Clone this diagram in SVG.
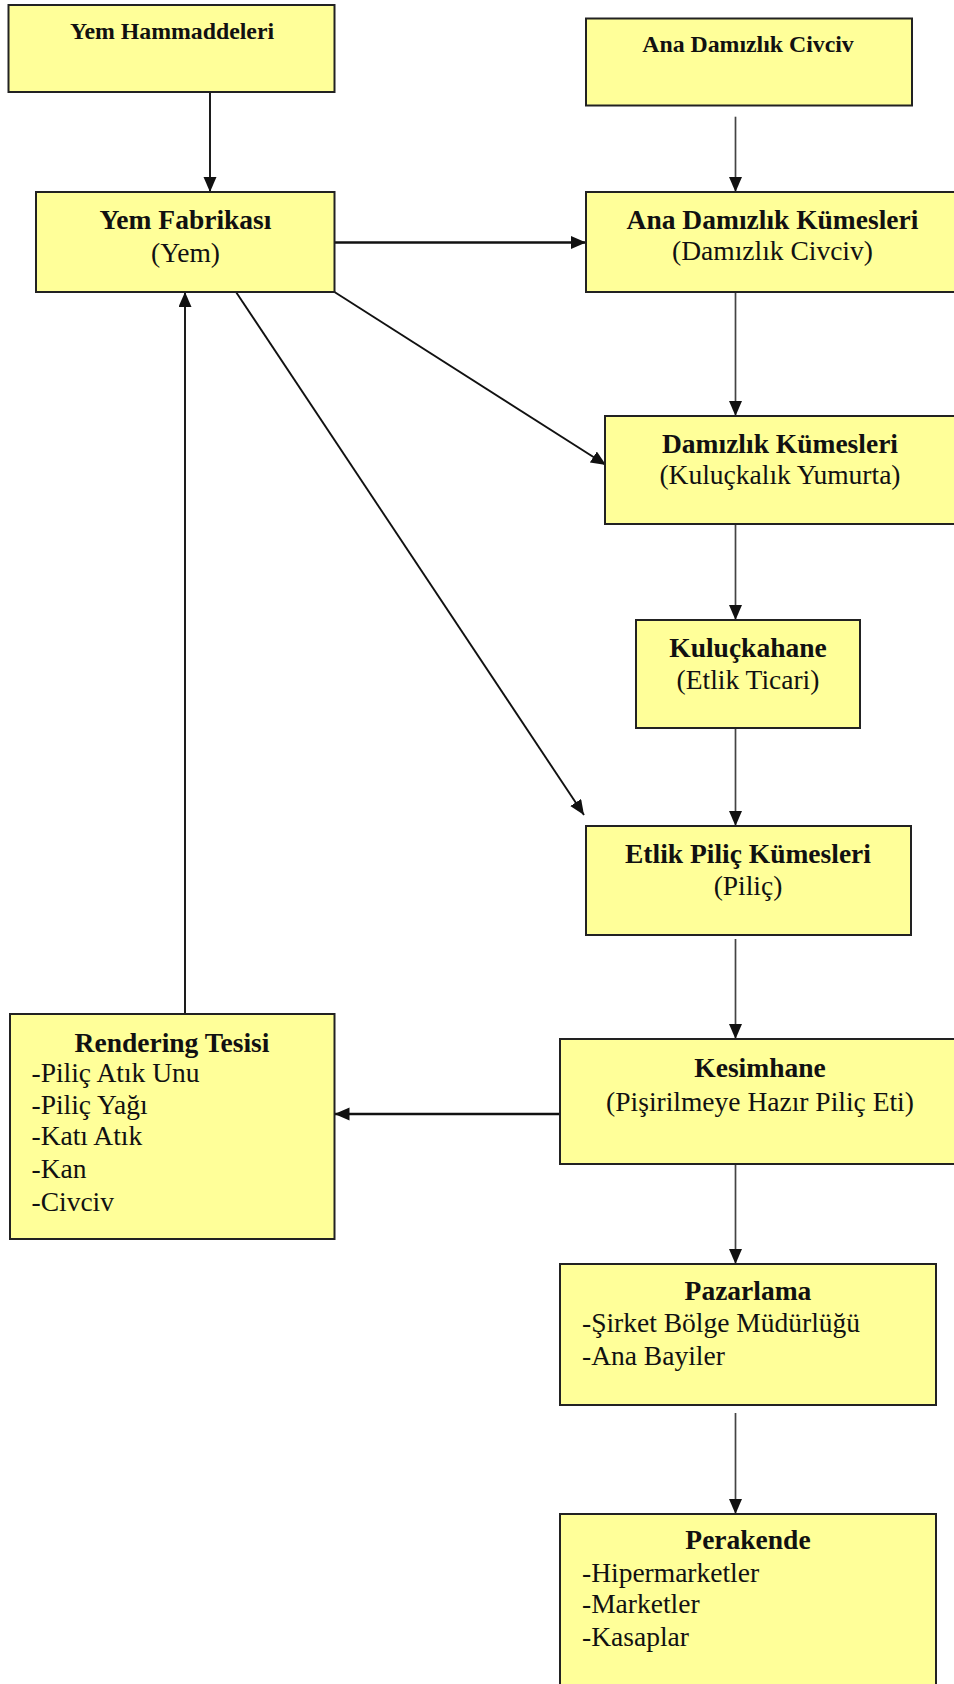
<svg xmlns="http://www.w3.org/2000/svg" width="954" height="1684" viewBox="0 0 954 1684">
<style>
.box{fill:#FFFF99;stroke:#222;stroke-width:2}
.t{font-family:"Liberation Serif","Times New Roman",serif;font-size:27.5px;fill:#111}
.b{font-weight:bold}
.s{font-size:23.8px}
.c{text-anchor:middle}
.ln{fill:none;stroke:#444;stroke-width:1.7}
.thk{stroke:#111;stroke-width:2.6}
.blk{stroke:#111;stroke-width:1.9}
</style>
<defs>
<marker id="ah" markerUnits="userSpaceOnUse" markerWidth="17" markerHeight="14" refX="15" refY="6.5" orient="auto">
<path d="M0,0 L15,6.5 L0,13 z" fill="#111"/>
</marker>
</defs>
<rect width="954" height="1684" fill="#fff"/>
<g id="connectors">
<path class="ln blk" d="M210,92 V192" marker-end="url(#ah)"/>
<path class="ln" d="M735.5,116.7 V192" marker-end="url(#ah)"/>
<path class="ln thk" d="M334.5,242.5 H586" marker-end="url(#ah)"/>
<path class="ln" d="M735.5,292 V416" marker-end="url(#ah)"/>
<path class="ln blk" d="M334.5,292 L606,465" marker-end="url(#ah)"/>
<path class="ln blk" d="M236,292 L584,815" marker-end="url(#ah)"/>
<path class="ln" d="M735.5,524 V620" marker-end="url(#ah)"/>
<path class="ln" d="M735.5,728 V826" marker-end="url(#ah)"/>
<path class="ln" d="M735.5,939 V1039" marker-end="url(#ah)"/>
<path class="ln thk" d="M560,1114 H334.5" marker-end="url(#ah)"/>
<path class="ln blk" d="M185,1014 V292" marker-end="url(#ah)"/>
<path class="ln" d="M735.5,1164 V1264" marker-end="url(#ah)"/>
<path class="ln" d="M735.5,1413 V1514" marker-end="url(#ah)"/>
</g>
<g id="yem-hammaddeleri">
<rect class="box" x="8.5" y="5" width="326" height="87"/>
<text class="t b s c" x="172" y="38.5">Yem Hammaddeleri</text>
</g>
<g id="ana-damizlik-civciv">
<rect class="box" x="586" y="18.5" width="326" height="87"/>
<text class="t b s c" x="748" y="52">Ana Damızlık Civciv</text>
</g>
<g id="yem-fabrikasi">
<rect class="box" x="36" y="192" width="298.5" height="100"/>
<text class="t b c" x="185.5" y="228.7">Yem Fabrikası</text>
<text class="t c" x="185.5" y="261.5">(Yem)</text>
</g>
<g id="ana-damizlik-kumesleri">
<rect class="box" x="586" y="192" width="380" height="100"/>
<text class="t b c" x="772.5" y="229">Ana Damızlık Kümesleri</text>
<text class="t c" x="772.5" y="260">(Damızlık Civciv)</text>
</g>
<g id="damizlik-kumesleri">
<rect class="box" x="605" y="416" width="360" height="108"/>
<text class="t b c" x="780" y="453">Damızlık Kümesleri</text>
<text class="t c" x="780" y="484">(Kuluçkalık Yumurta)</text>
</g>
<g id="kuluckahane">
<rect class="box" x="636" y="620" width="224" height="108"/>
<text class="t b c" x="748" y="657">Kuluçkahane</text>
<text class="t c" x="748" y="689">(Etlik Ticari)</text>
</g>
<g id="etlik-pilic-kumesleri">
<rect class="box" x="586" y="826" width="325" height="109"/>
<text class="t b c" x="748" y="863">Etlik Piliç Kümesleri</text>
<text class="t c" x="748" y="894.5">(Piliç)</text>
</g>
<g id="kesimhane">
<rect class="box" x="560" y="1039" width="400" height="125"/>
<text class="t b c" x="760" y="1077">Kesimhane</text>
<text class="t c" x="760" y="1110.5">(Pişirilmeye Hazır Piliç Eti)</text>
</g>
<g id="rendering-tesisi">
<rect class="box" x="10" y="1014" width="324.5" height="225"/>
<text class="t b c" x="172" y="1052">Rendering Tesisi</text>
<text class="t" x="31.5" y="1082">-Piliç Atık Unu</text>
<text class="t" x="31.5" y="1114">-Piliç Yağı</text>
<text class="t" x="31.5" y="1145">-Katı Atık</text>
<text class="t" x="31.5" y="1178">-Kan</text>
<text class="t" x="31.5" y="1210.5">-Civciv</text>
</g>
<g id="pazarlama">
<rect class="box" x="560" y="1264" width="376" height="141"/>
<text class="t b c" x="748" y="1300">Pazarlama</text>
<text class="t" x="582" y="1332">-Şirket Bölge Müdürlüğü</text>
<text class="t" x="582" y="1365">-Ana Bayiler</text>
</g>
<g id="perakende">
<rect class="box" x="560" y="1514" width="376" height="180"/>
<text class="t b c" x="748" y="1549">Perakende</text>
<text class="t" x="582" y="1582">-Hipermarketler</text>
<text class="t" x="582" y="1613">-Marketler</text>
<text class="t" x="582" y="1646">-Kasaplar</text>
</g>
</svg>
